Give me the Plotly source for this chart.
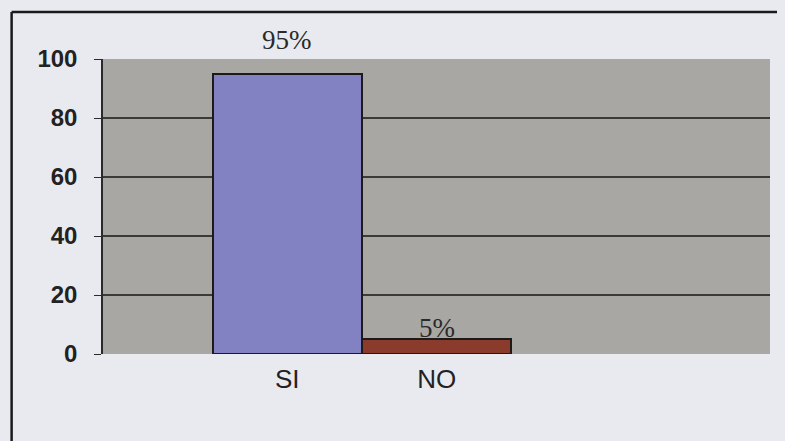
import plotly.graph_objects as go

categories = ["SI", "NO"]
values = [95, 5]
labels = ["95%", "5%"]
y_ticks = [0, 20, 40, 60, 80, 100]

bar_colors = ["#8282c2", "#8a3b2b"]
label_shift = [17, -6]

fig = go.Figure()
fig.add_trace(go.Bar(
    x=categories, y=values,
    width=1.0,
    marker=dict(color=bar_colors, line=dict(color="#1e1a1a", width=2)),
    showlegend=False,
))

for cat, val, lab, sh in zip(categories, values, labels, label_shift):
    fig.add_annotation(x=cat, y=val, text=lab, showarrow=False, yanchor="bottom", yshift=sh,
                       font=dict(family="Liberation Serif, Times New Roman, serif", size=27, color="#2a2a2a"))

# outer frame of the chart
fig.add_shape(type="line", xref="paper", yref="paper", x0=-0.137, x1=1.02, y0=1.159, y1=1.159,
              line=dict(color="#1a1a1a", width=2.5))
fig.add_shape(type="line", xref="paper", yref="paper", x0=-0.137, x1=-0.137, y0=-0.3, y1=1.159,
              line=dict(color="#1a1a1a", width=2.5))

fig.update_layout(
    width=777, height=433,
    margin=dict(l=95, r=15, t=51, b=87),
    paper_bgcolor="#e9eaf0",
    plot_bgcolor="#a9a7a3",
    bargap=0,
    font=dict(family="Liberation Sans, Arial, sans-serif", size=24, color="#222222"),
    xaxis=dict(range=[-1.233, 3.23], showgrid=False, showline=False, ticks="",
               tickfont=dict(size=26), ticklabelstandoff=7),
    yaxis=dict(range=[0, 100], tickvals=y_ticks, showgrid=True, gridcolor="#3c3a36", gridwidth=1.5,
               showline=True, linecolor="#2a2a2a", linewidth=1.5, ticks="outside", ticklen=7,
               tickcolor="#2a2a2a", zeroline=False, ticklabelstandoff=12,
               tickfont=dict(size=24, weight="bold")),
)

fig.write_html("out.html", post_script="document.body.style.background='#e9eaf0';")
